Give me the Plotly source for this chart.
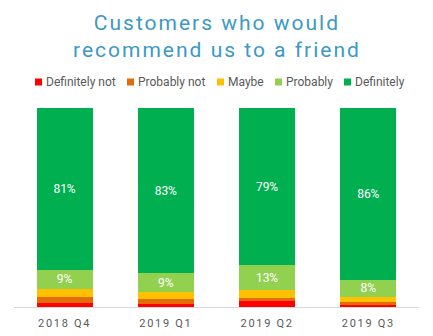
import plotly.graph_objects as go

quarters = ["2018 Q4", "2019 Q1", "2019 Q2", "2019 Q3"]
series_names = ["Definitely not", "Probably not", "Maybe", "Probably", "Definitely"]
definitely_not = [2.2, 1.5, 3.0, 0.9]
probably_not = [2.8, 2.5, 1.5, 1.5]
maybe = [4.2, 3.5, 4.0, 2.8]
probably = [9.4, 9.4, 12.5, 8.4]
definitely = [81.4, 83.1, 79.0, 86.4]
colors = ["#ff0000", "#e36c09", "#ffc000", "#92d050", "#00b050"]
show_labels = [False, False, False, True, True]

W, H = 433, 336
ML, MR, MT, MB = 14, 14, 108, 29
PW = W - ML - MR
PH = H - MT - MB

fig = go.Figure()
for name, vals, col, lab in zip(series_names,
                                 [definitely_not, probably_not, maybe, probably, definitely],
                                 colors, show_labels):
    fig.add_trace(go.Bar(
        x=quarters, y=vals, name=name, marker=dict(color=col, line=dict(width=0)),
        texttemplate="%{y:.0f}%" if lab else None,
        textposition="inside" if lab else "none",
        insidetextanchor="middle", textangle=0,
        textfont=dict(color="white", size=12, family="Roboto"),
        showlegend=False, hoverinfo="skip",
    ))

def px_x(px):
    return (px - ML) / PW

def px_y(py):
    return (H - MB - py) / PH

legend_sq = [35, 127, 217, 275, 344]
legend_tx = [44, 136, 226, 284, 353]
shapes = []
annotations = []
for name, col, sx, tx in zip(series_names, colors, legend_sq, legend_tx):
    shapes.append(dict(type="rect", xref="paper", yref="paper",
                       x0=px_x(sx), x1=px_x(sx + 7), y0=px_y(85.5), y1=px_y(78.5),
                       fillcolor=col, line=dict(width=0)))
    annotations.append(dict(text=name, xref="paper", yref="paper", x=px_x(tx), y=px_y(82),
                            xanchor="left", yanchor="middle", showarrow=False,
                            font=dict(size=12, color="#595959", family="Roboto")))

# chart title (two lines)
annotations.append(dict(text="Customers who would<br>recommend us to a friend",
                        xref="paper", yref="paper", x=0.5, y=px_y(9),
                        xanchor="center", yanchor="top", showarrow=False,
                        font=dict(size=21, color="#3b99c4", family="Roboto"),
                        name="charttitle"))

fig.update_layout(
    width=W, height=H,
    margin=dict(l=ML, r=MR, t=MT, b=MB, pad=0, autoexpand=False),
    paper_bgcolor="white", plot_bgcolor="white",
    barmode="stack", bargap=0.447,
    font=dict(family="Roboto", color="#595959"),
    xaxis=dict(showline=True, linecolor="#d9d9d9", linewidth=1, showgrid=False,
               ticks="", tickfont=dict(size=11, color="#595959", family="Roboto"),
               ticklabelstandoff=6, fixedrange=True, automargin=False),
    yaxis=dict(range=[0, 100], visible=False, showgrid=False, fixedrange=True,
               automargin=False),
    uniformtext=dict(minsize=12, mode="show"),
    shapes=shapes, annotations=annotations,
    showlegend=False,
)

post = """
var gd = document.getElementById('{plot_id}');
gd.querySelectorAll('.annotation-text').forEach(function(e){
  if (e.textContent.indexOf('Customers') === 0) { e.style.letterSpacing = '2px'; }
});
gd.querySelectorAll('.xtick text').forEach(function(e){e.style.letterSpacing='1.7px';});
"""
fig.write_html("out.html", post_script=post, config={"displayModeBar": False})
